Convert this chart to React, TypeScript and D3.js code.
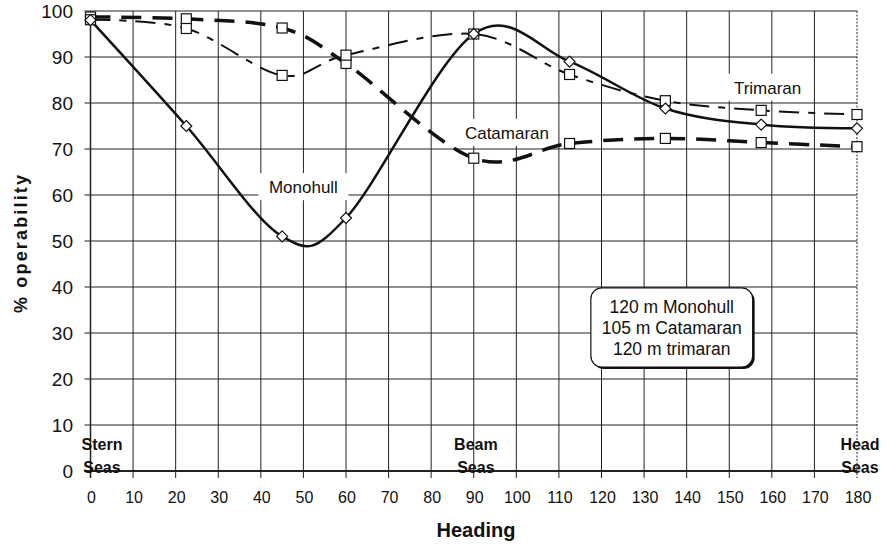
import React from "react";
import * as d3 from "d3";

const headings = [0, 22.5, 45, 60, 90, 112.5, 135, 157.5, 180];
const monohull = [98, 75, 51, 55, 95, 89, 78.8, 75.3, 74.5];
const catamaran = [98.7, 98.3, 96.3, 88.6, 68, 71.2, 72.3, 71.4, 70.5];
const trimaran = [98.1, 96.2, 86, 90.4, 95, 86.2, 80.5, 78.4, 77.5];

const xTicks = d3.range(0, 181, 10);
const yTicks = d3.range(0, 101, 10);

const seasLabels = [
  { name: "Stern", h: 2.7 },
  { name: "Beam", h: 90.5 },
  { name: "Head", h: 180.7 },
];
const seriesLabels = [
  { text: "Monohull", h: 50, v: 60.4 },
  { text: "Catamaran", h: 97.8, v: 72.2 },
  { text: "Trimaran", h: 159, v: 82 },
];
const infoLines = ["120 m Monohull", "105 m Catamaran", "120 m trimaran"];

const W = 886;
const H = 546;
const FONT = "'Liberation Sans', Arial, Helvetica, sans-serif";

export default function App() {
  const x = d3.scaleLinear().domain([0, 180]).range([90.5, 857]);
  const y = d3.scaleLinear().domain([0, 100]).range([471, 11]);

  const line = d3
    .line<number>()
    .x((_, i) => x(headings[i]))
    .y((d) => y(d))
    .curve(d3.curveCardinal.tension(0));

  const diamond = "M0,-5.5L5.5,0L0,5.5L-5.5,0Z";

  const boxL = x(117.5), boxR = x(155.5), boxT = y(39.8), boxB = y(22.6);
  const boxCx = (boxL + boxR) / 2;

  return (
    <svg width={W} height={H} style={{ position: "absolute", left: 0, top: 0, background: "#fff" }} fontFamily={FONT}>
      <rect x={0} y={0} width={W} height={H} fill="#fff" />
      {/* horizontal gridlines */}
      {yTicks.map((t) => (
        <line key={"h" + t} x1={x(0) - 6} x2={x(180)} y1={y(t)} y2={y(t)} stroke="#222" strokeWidth={t === 0 ? 2 : 1} />
      ))}
      {/* vertical gridlines */}
      {xTicks.map((t) => (
        <line
          key={"v" + t}
          x1={x(t)}
          x2={x(t)}
          y1={y(100)}
          y2={y(0) + 7}
          stroke="#222"
          strokeWidth={t === 0 ? 1.5 : 1}
          strokeDasharray={t === 180 ? "2,1.5" : undefined}
        />
      ))}
      {/* y tick labels */}
      {yTicks.map((t) => (
        <text key={"yl" + t} x={73} y={y(t) + 7} textAnchor="end" fontSize={19} fill="#111">
          {t}
        </text>
      ))}
      {/* x tick labels */}
      {xTicks.map((t) => (
        <text key={"xl" + t} x={x(t) + 1} y={503} textAnchor="middle" fontSize={16} fill="#111">
          {t}
        </text>
      ))}
      {/* axis titles */}
      <text x={476} y={537} textAnchor="middle" fontSize={20} fontWeight="bold" fill="#111">
        Heading
      </text>
      <text
        transform={`translate(27,${244}) rotate(-90)`}
        textAnchor="middle"
        fontSize={18}
        fontWeight="bold"
        fill="#111"
        textLength={138}
        lengthAdjust="spacing"
      >
        % operability
      </text>
      {/* series labels with white background */}
      {seriesLabels.map((l) => {
        const cx = x(l.h);
        const by = y(l.v);
        const w = l.text.length * 9.5 + 14;
        return (
          <g key={l.text}>
            <rect x={cx - w / 2} y={by - 20} width={w} height={27} fill="#fff" />
            <text x={cx} y={by} textAnchor="middle" fontSize={17} fill="#111">
              {l.text}
            </text>
          </g>
        );
      })}
      {/* seas labels */}
      {seasLabels.map((s) => (
        <g key={s.name}>
          <text x={x(s.h)} y={450} textAnchor="middle" fontSize={16} fontWeight="bold" fill="#111">
            {s.name}
          </text>
          <text x={x(s.h)} y={473} textAnchor="middle" fontSize={16} fontWeight="bold" fill="#111">
            Seas
          </text>
        </g>
      ))}
      {/* lines */}
      <path d={line(catamaran) || ""} fill="none" stroke="#111" strokeWidth={3.5} strokeDasharray="20,11" />
      <path d={line(trimaran) || ""} fill="none" stroke="#111" strokeWidth={2} strokeDasharray="20,9,7,9" />
      <path d={line(monohull) || ""} fill="none" stroke="#111" strokeWidth={2.5} />
      {/* markers */}
      {catamaran.map((v, i) => (
        <rect key={"cm" + i} x={x(headings[i]) - 5} y={y(v) - 5} width={10} height={10} fill="#fff" stroke="#111" strokeWidth={1.2} />
      ))}
      {trimaran.map((v, i) => (
        <rect key={"tm" + i} x={x(headings[i]) - 5} y={y(v) - 5} width={10} height={10} fill="#fff" stroke="#111" strokeWidth={1.2} />
      ))}
      {monohull.map((v, i) => (
        <path key={"mm" + i} d={diamond} transform={`translate(${x(headings[i])},${y(v)})`} fill="#fff" stroke="#111" strokeWidth={1.2} />
      ))}
      {/* info box */}
      <rect x={boxL + 2} y={boxT + 2} width={boxR - boxL} height={boxB - boxT} rx={11} fill="#111" />
      <rect x={boxL} y={boxT} width={boxR - boxL} height={boxB - boxT} rx={11} fill="#fff" stroke="#111" strokeWidth={1.2} />
      {infoLines.map((t, i) => (
        <text key={t} x={boxCx} y={boxT + 25 + i * 21} textAnchor="middle" fontSize={17.5} fill="#111">
          {t}
        </text>
      ))}
    </svg>
  );
}
